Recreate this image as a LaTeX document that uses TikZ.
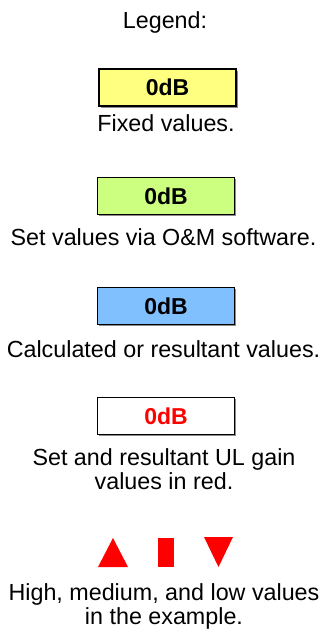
\documentclass[tikz,border=0pt]{standalone}
\usepackage{fontspec}
\setmainfont{Liberation Sans}
\usetikzlibrary{shadows}
\definecolor{fixyel}{RGB}{255,255,128}
\definecolor{setgrn}{RGB}{204,255,128}
\definecolor{calcblu}{RGB}{128,192,255}
\definecolor{ulred}{RGB}{255,0,0}
\tikzset{
  valbox/.style={draw=black, line width=1.6pt, minimum width=137pt, minimum height=37pt,
                 inner sep=0pt, font=\fontsize{23}{24}\selectfont\bfseries,
                 drop shadow={shadow xshift=1.6pt, shadow yshift=-1.6pt, fill=black!45, opacity=1}},
  lbl/.style={font=\fontsize{23.3}{23.3}\selectfont, align=center, anchor=base, inner sep=0pt},
  hilo/.style={fill=ulred, draw=none},
}
\begin{document}
\begin{tikzpicture}[x=1pt, y=-1pt]
  \useasboundingbox (0,0) rectangle (325,633);
  \node[lbl] (title) at (165,28) {Legend:};
  % fixed
  \node[valbox, fill=fixyel] (fixbox) at (167.5,87.5) {0dB};
  \node[lbl] (fixtxt) at (166,131) {Fixed values.};
  % set via O&M
  \node[valbox, fill=setgrn] (setbox) at (166,196) {0dB};
  \node[lbl] (settxt) at (163.5,245) {Set values via O\&M software.};
  % calculated
  \node[valbox, fill=calcblu] (calcbox) at (166,306) {0dB};
  \node[lbl] (calctxt) at (163.5,357) {Calculated or resultant values.};
  % UL gain in red
  \node[valbox, fill=white, text=ulred] (ulbox) at (166,416) {0dB};
  \node[lbl] (ultxt) at (164,489) {Set and resultant UL gain\\values in red.};
  % high / medium / low
  \fill[hilo] (98,567) -- (128,567) -- (113,538) -- cycle;
  \fill[hilo] (158,538) rectangle (174,567);
  \fill[hilo] (204,537) -- (233,537) -- (218.5,567) -- cycle;
  \node[lbl] (hmltxt) at (164,624) {High, medium, and low values\\in the example.};
\end{tikzpicture}
\end{document}
